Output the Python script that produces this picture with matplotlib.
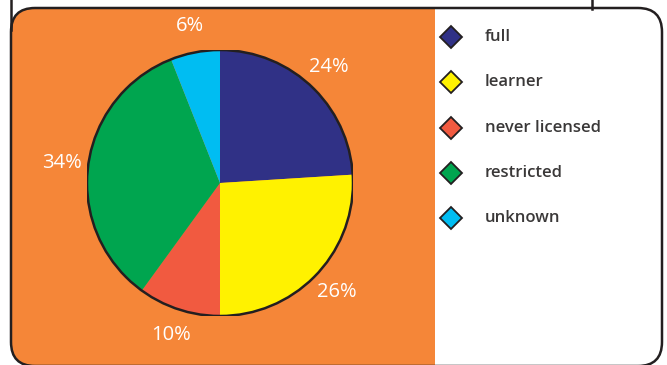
import matplotlib
matplotlib.use("Agg")
import matplotlib.pyplot as plt
from matplotlib.patches import FancyBboxPatch, Rectangle, Circle

# data
categories = ['full', 'learner', 'never licensed', 'restricted', 'unknown']
shares = [24, 26, 10, 34, 6]
colors = ['#303186', '#fff200', '#f15a40', '#00a54f', '#00bdf2']

W, H = 667, 365
plt.rcParams['font.family'] = ['Open Sans', 'DejaVu Sans']

fig = plt.figure(figsize=(W / 100, H / 100), dpi=100)

# background layer in pixel coords
bg = fig.add_axes([0, 0, 1, 1])
bg.set_xlim(0, W)
bg.set_ylim(H, 0)
bg.axis('off')

box = dict(boxstyle='round,pad=0,rounding_size=24')
frame = FancyBboxPatch((11, 8), 651, 358, facecolor='white', edgecolor='none', zorder=1, **box)
bg.add_patch(frame)
orange = Rectangle((11, 8), 424, 362, facecolor='#f58638', edgecolor='none', zorder=2)
orange.set_clip_path(frame)
bg.add_patch(orange)
bg.add_patch(FancyBboxPatch((11, 8), 651, 358, facecolor='none', edgecolor='#231f20',
                            linewidth=1.8, zorder=3, **box))
bg.plot([11, 11], [0, 30], color='#231f20', lw=1.8, zorder=3)
bg.plot([592, 592], [0, 9], color='#231f20', lw=1.8, zorder=3)

# legend
leg_y = [37, 82, 128, 173, 218]
for y, c, name in zip(leg_y, colors, categories):
    bg.plot(451, y, marker='D', markersize=11.5, markerfacecolor=c,
            markeredgecolor='#231f20', markeredgewidth=1.3, zorder=4)
    bg.text(485, y, name, fontsize=12, fontweight='semibold', color='#3a3838',
            va='center', ha='left', zorder=4)

# pie
cx, cy, r = 220, 183, 133
pax = fig.add_axes([(cx - r) / W, (H - cy - r) / H, 2 * r / W, 2 * r / H])
pax.set_zorder(5)
pax.patch.set_alpha(0)
wedges, texts = pax.pie(shares, colors=colors, startangle=90, counterclock=False,
                        labels=[f'{v}%' for v in shares], labeldistance=1.2,
                        wedgeprops=dict(linewidth=0),
                        textprops=dict(color='white', fontsize=14.5))
for t in texts:
    t.set_ha('center')
    t.set_va('center')
pax.add_patch(Circle((0, 0), 1, facecolor='none', edgecolor='#231f20', linewidth=1.8))
pax.set_xlim(-1, 1)
pax.set_ylim(-1, 1)
pax.set_aspect('equal')
pax.axis('off')

fig.savefig('out.png', dpi=100)
